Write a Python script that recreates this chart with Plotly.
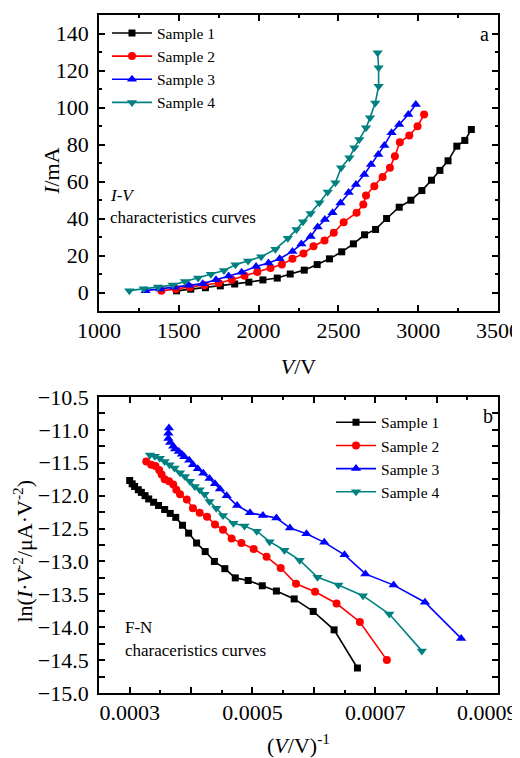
import plotly.graph_objects as go

# ---------------- Panel a : I-V ----------------
v1 = [1486, 1575, 1667, 1760, 1850, 1939, 2027, 2117, 2198, 2286, 2367, 2444, 2521, 2594,
      2664, 2733, 2802, 2881, 2954, 3023, 3083, 3136, 3187, 3242, 3292, 3333]
i1 = [0.9, 1.8, 2.6, 3.6, 4.6, 5.6, 6.8, 7.8, 10.0, 12.1, 15.1, 18.2, 22.0, 26.3,
      31.2, 34.1, 40.0, 46.1, 49.9, 55.1, 60.7, 66.0, 71.2, 79.1, 82.2, 88.1]

v2 = [1391, 1481, 1570, 1661, 1751, 1832, 1912, 1992, 2075, 2146, 2212, 2281, 2344, 2413,
      2471, 2533, 2614, 2656, 2673, 2725, 2777, 2823, 2854, 2885, 2944, 2996, 3037]
i2 = [0.9, 1.9, 2.8, 3.9, 5.1, 6.9, 9.0, 11.1, 13.2, 15.2, 18.2, 21.1, 25.0, 28.1,
      32.3, 38.0, 43.1, 47.6, 52.4, 57.5, 62.5, 67.4, 73.7, 81.2, 84.9, 89.9, 96.2]

v3 = [1292, 1383, 1471, 1563, 1650, 1733, 1812, 1894, 1984, 2062, 2132, 2212, 2268, 2326,
      2370, 2415, 2463, 2513, 2564, 2610, 2662, 2704, 2750, 2788, 2833, 2881, 2938, 2985]
i3 = [1.0, 1.9, 2.9, 3.9, 4.8, 6.9, 8.9, 10.9, 14.1, 16.0, 18.3, 22.2, 26.2, 30.3,
      35.4, 39.4, 43.1, 48.4, 54.0, 58.4, 63.8, 69.2, 74.6, 79.5, 86.3, 90.8, 96.2, 101.6]

v4 = [1190, 1280, 1370, 1462, 1538, 1621, 1701, 1783, 1855, 1934, 2016, 2105, 2183, 2237,
      2278, 2326, 2381, 2433, 2481, 2517, 2569, 2600, 2631, 2673, 2698, 2731, 2752, 2752, 2746]
i4 = [1.0, 2.0, 3.0, 4.0, 5.9, 7.9, 9.9, 11.9, 15.0, 17.0, 19.3, 23.4, 29.3, 34.0,
      38.2, 42.7, 48.5, 54.3, 59.3, 67.4, 72.8, 78.2, 82.7, 89.0, 94.4, 102.5, 111.5, 121.5, 129.6]

# ---------------- Panel b : F-N ----------------
fx1 = [0.000300, 0.000304, 0.000308, 0.000314, 0.000319, 0.000325, 0.000331, 0.000339,
       0.000347, 0.000357, 0.000366, 0.000375, 0.000386, 0.000396, 0.000409, 0.000423,
       0.000438, 0.000455, 0.000472, 0.000493, 0.000516, 0.000539, 0.000568, 0.000599,
       0.000633, 0.000671]
fy1 = [-11.77, -11.82, -11.86, -11.91, -11.95, -12.00, -12.05, -12.10, -12.15, -12.21,
       -12.27, -12.33, -12.45, -12.57, -12.72, -12.85, -13.00, -13.11, -13.25, -13.29,
       -13.37, -13.45, -13.57, -13.76, -14.04, -14.62]

fx2 = [0.000327, 0.000335, 0.000342, 0.000348, 0.000352, 0.000357, 0.000364, 0.000371,
       0.000376, 0.000382, 0.000393, 0.000403, 0.000414, 0.000426, 0.000439, 0.000452,
       0.000466, 0.000482, 0.000502, 0.000523, 0.000546, 0.000571, 0.000602, 0.000637,
       0.000675, 0.000719]
fy2 = [-11.48, -11.53, -11.55, -11.61, -11.68, -11.75, -11.78, -11.83, -11.91, -11.98,
       -12.06, -12.19, -12.26, -12.32, -12.44, -12.52, -12.65, -12.72, -12.81, -12.93,
       -13.10, -13.34, -13.46, -13.64, -13.92, -14.50]

fx3 = [0.000364, 0.000363, 0.000363, 0.000366, 0.000371, 0.000374, 0.000380, 0.000385,
       0.000389, 0.000397, 0.000403, 0.000411, 0.000420, 0.000430, 0.000439, 0.000447,
       0.000458, 0.000475, 0.000496, 0.000517, 0.000539, 0.000561, 0.000588, 0.000617,
       0.000650, 0.000684, 0.000730, 0.000781, 0.000840]
fy3 = [-10.97, -11.05, -11.13, -11.19, -11.25, -11.29, -11.33, -11.37, -11.41, -11.46,
       -11.53, -11.59, -11.66, -11.74, -11.82, -11.90, -12.00, -12.15, -12.26, -12.30,
       -12.34, -12.49, -12.58, -12.71, -12.90, -13.19, -13.36, -13.62, -14.17]

fx4 = [0.000333, 0.000341, 0.000349, 0.000357, 0.000365, 0.000373, 0.000382, 0.000390,
       0.000398, 0.000406, 0.000414, 0.000422, 0.000430, 0.000441, 0.000452, 0.000469,
       0.000487, 0.000507, 0.000528, 0.000552, 0.000577, 0.000606, 0.000640, 0.000680,
       0.000723, 0.000776]
fy4 = [-11.38, -11.40, -11.43, -11.48, -11.53, -11.58, -11.65, -11.71, -11.78, -11.86,
       -11.91, -11.98, -12.09, -12.19, -12.30, -12.42, -12.46, -12.54, -12.70, -12.83,
       -12.98, -13.24, -13.36, -13.52, -13.80, -14.36]

# tick positions / labels
a_xticks = [1000, 1500, 2000, 2500, 3000, 3500]
a_xminor = [1250, 1750, 2250, 2750, 3250]
a_yticks = [0, 20, 40, 60, 80, 100, 120, 140]
a_yminor = [-10, 10, 30, 50, 70, 90, 110, 130, 150]
b_xlabeled = [0.0003, 0.0005, 0.0007]
b_xlabels = ["0.0003", "0.0005", "0.0007"]
b_xlast_label = "0.0009"          # right-most label, pulled inside the page edge
b_xunlabeled = [0.0004, 0.0006, 0.0008, 0.0009]
b_xminor = [0.00035, 0.00045, 0.00055, 0.00065, 0.00075, 0.00085]
b_yticks = [-15, -14.5, -14, -13.5, -13, -12.5, -12, -11.5, -11, -10.5]
b_ylabels = ["\u221215.0", "\u221214.5", "\u221214.0", "\u221213.5", "\u221213.0",
             "\u221212.5", "\u221212.0", "\u221211.5", "\u221211.0", "\u221210.5"]
b_yminor = [-14.75, -14.25, -13.75, -13.25, -12.75, -12.25, -11.75, -11.25, -10.75]

names = ["Sample 1", "Sample 2", "Sample 3", "Sample 4"]
colors = ["#000000", "#ff0000", "#0000ff", "#008080"]
symbols = ["square", "circle", "triangle-up", "triangle-down"]
msizes = [7, 8, 9, 9]

iv = [(v1, i1), (v2, i2), (v3, i3), (v4, i4)]
fn = [(fx1, fy1), (fx2, fy2), (fx3, fy3), (fx4, fy4)]

FONT = "Liberation Serif"
fig = go.Figure()

for k in range(4):
    fig.add_trace(go.Scatter(
        x=iv[k][0], y=iv[k][1], name=names[k], mode="lines+markers",
        line=dict(color=colors[k], width=1.6),
        marker=dict(symbol=symbols[k], size=msizes[k], color=colors[k]),
        xaxis="x", yaxis="y", legend="legend"))
for k in range(4):
    fig.add_trace(go.Scatter(
        x=fn[k][0], y=fn[k][1], name=names[k], mode="lines+markers",
        line=dict(color=colors[k], width=1.6),
        marker=dict(symbol=symbols[k], size=msizes[k], color=colors[k]),
        xaxis="x2", yaxis="y2", legend="legend2"))
# empty helper trace so the extra tick-only axis (x3) is drawn
fig.add_trace(go.Scatter(x=[], y=[], xaxis="x3", yaxis="y2", showlegend=False,
                         hoverinfo="skip"))

axis_common = dict(
    showline=True, linecolor="black", linewidth=1.8, mirror="allticks",
    ticks="inside", ticklen=6, tickwidth=1.5, tickcolor="black",
    showgrid=False, zeroline=False, automargin=False,
    tickfont=dict(family=FONT, size=22, color="black"),
    ticklabeloverflow="allow",
)
minor_common = dict(tickmode="array", ticklen=3, tickwidth=1.5, ticks="inside",
                    tickcolor="black", showgrid=False)

top_dom = [0.5634, 1.0]
bot_dom = [0.0, 0.4366]
b_xrange = [0.00025, 0.00090001]

# the page body adds an 8 px offset, so the figure is 8 px smaller and shifted margins
fig.update_layout(
    template="none",
    width=512, height=750,
    margin=dict(l=91, r=22, t=7, b=65, autoexpand=False),
    paper_bgcolor="white", plot_bgcolor="white",
    font=dict(family=FONT, color="black"),
    xaxis=dict(axis_common, domain=[0, 1], anchor="y", range=[1000, 3500.01],
               tickmode="array", tickvals=a_xticks, ticklabelstandoff=-1,
               minor=dict(minor_common, tickvals=a_xminor),
               title=dict(text="<i>V</i>/V", font=dict(family=FONT, size=22), standoff=16)),
    yaxis=dict(axis_common, domain=top_dom, anchor="x", range=[-10, 150],
               tickmode="array", tickvals=a_yticks, ticklabelstandoff=4,
               minor=dict(minor_common, tickvals=a_yminor)),
    xaxis2=dict(axis_common, domain=[0, 1], anchor="y2", range=b_xrange,
                tickmode="array", tickvals=b_xlabeled, ticktext=b_xlabels,
                ticklabelstandoff=-1,
                minor=dict(minor_common, tickvals=b_xunlabeled, ticklen=6),
                title=dict(text="(<i>V</i>/V)<sup>-1</sup>", font=dict(family=FONT, size=22),
                           standoff=16)),
    xaxis3=dict(overlaying="x2", anchor="y2", range=b_xrange,
                showline=False, showgrid=False, zeroline=False, automargin=False,
                showticklabels=False, ticks="inside", ticklen=3, tickwidth=1.5,
                tickcolor="black", mirror="allticks",
                tickmode="array", tickvals=b_xminor),
    yaxis2=dict(axis_common, domain=bot_dom, anchor="x2", range=[-15, -10.5],
                tickmode="array", tickvals=b_yticks, ticktext=b_ylabels,
                ticklabelstandoff=4,
                minor=dict(minor_common, tickvals=b_yminor)),
    legend=dict(x=0.02, y=0.998, xanchor="left", yanchor="top",
                bgcolor="rgba(0,0,0,0)", borderwidth=0,
                font=dict(family=FONT, size=15.5, color="black"),
                itemwidth=40, tracegroupgap=0),
    legend2=dict(x=0.5815, y=0.4237, xanchor="left", yanchor="top",
                 bgcolor="rgba(0,0,0,0)", borderwidth=0,
                 font=dict(family=FONT, size=15.5, color="black"),
                 itemwidth=40, tracegroupgap=0),
    showlegend=True,
)

ann = [
    dict(text="<i>I</i>/mA", x=-0.118, y=0.770),
    dict(text="ln(<i>I</i>·<i>V</i><sup>-2</sup>/μA·V<sup>-2</sup>)", x=-0.19, y=0.209),
]
for a in ann:
    fig.add_annotation(text=a["text"], x=a["x"], y=a["y"], xref="paper", yref="paper",
                       xanchor="center", yanchor="middle", textangle=-90,
                       showarrow=False, font=dict(family=FONT, size=22, color="black"))

# right-most x label of panel b, kept inside the page like the original
fig.add_annotation(text=b_xlast_label, x=1.054, y=0, xref="paper", yref="paper",
                   xanchor="right", yanchor="middle", yshift=-19, showarrow=False,
                   font=dict(family=FONT, size=22, color="black"))

labels = [
    ("a", 0.967, 0.972, "center", 20),
    ("b", 0.975, 0.408, "center", 20),
    ("<i>I-V</i>", 0.0226, 0.7345, "left", 17),
    ("characteristics curves", 0.0226, 0.701, "left", 17),
    ("F-N", 0.060, 0.0959, "left", 17),
    ("characeristics curves", 0.060, 0.0634, "left", 17),
]
for t, x, y, xa, s in labels:
    fig.add_annotation(text=t, x=x, y=y, xref="paper", yref="paper", xanchor=xa,
                       yanchor="middle", showarrow=False,
                       font=dict(family=FONT, size=s, color="black"))

fig.write_html("out.html")
